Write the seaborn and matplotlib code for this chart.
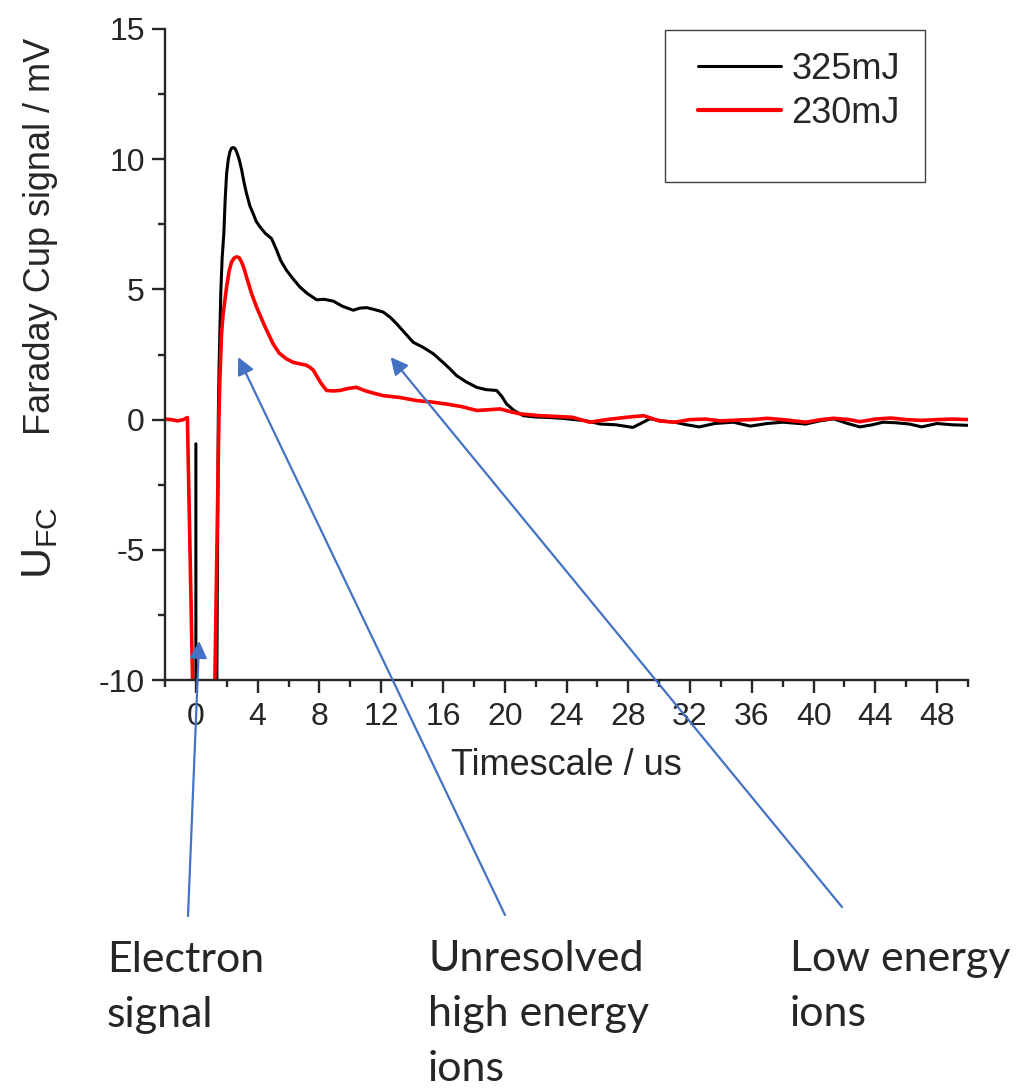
import numpy as np
import pandas as pd
import seaborn as sns
import matplotlib.pyplot as plt
from matplotlib.patches import Rectangle

# datos
t_325 = [0.0, 0.0, 1.31, 1.45, 1.5, 1.55, 1.62, 1.7, 1.81, 1.9, 1.99, 2.1, 2.2, 2.3, 2.42,
         2.52, 2.63, 2.8, 2.96, 3.12, 3.28, 3.5, 3.71, 3.9, 4.15, 4.5, 4.9, 5.2, 5.5, 5.87,
         6.3, 6.74, 7.2, 7.82, 8.3, 8.9, 9.5, 10.19, 10.6, 11.06, 11.6, 12.13, 12.6, 13.0,
         13.5, 14.07, 14.7, 15.37, 16.0, 16.45, 16.88, 17.5, 18.18, 18.8, 19.47, 19.8, 20.12,
         20.6, 21.2, 22.0, 22.9, 23.7, 24.5, 25.3, 26.2, 27.2, 28.3, 29.4, 30.2, 31.0, 31.8,
         32.6, 33.6, 34.8, 35.9, 37.0, 38.0, 39.5, 40.4, 41.3, 42.2, 43.0, 43.8, 44.5, 45.3,
         46.2, 47.0, 48.0, 49.0, 50.0]
u_325 = [-0.93, -15.0, -15.0, 0.0, 2.0, 3.3, 5.0, 6.2, 7.15, 8.5, 9.45, 10.0, 10.28, 10.42, 10.45,
         10.42, 10.3, 10.0, 9.6, 9.1, 8.68, 8.2, 7.91, 7.62, 7.4, 7.15, 6.95, 6.55, 6.1, 5.73,
         5.4, 5.09, 4.85, 4.6, 4.62, 4.55, 4.35, 4.2, 4.28, 4.3, 4.22, 4.13, 3.92, 3.68,
         3.35, 2.97, 2.78, 2.53, 2.2, 1.95, 1.69, 1.45, 1.24, 1.15, 1.12, 0.9, 0.6,
         0.35, 0.15, 0.1, 0.08, 0.05, 0.0, -0.05, -0.17, -0.2, -0.3, 0.03, -0.05, -0.1, -0.2,
         -0.28, -0.15, -0.1, -0.25, -0.15, -0.1, -0.17, -0.05, 0.03, -0.15, -0.28, -0.2, -0.1, -0.12,
         -0.17, -0.28, -0.15, -0.2, -0.22]

t_230 = [-2.0, -1.6, -1.2, -0.8, -0.55, -0.05, 1.1, 1.49, 1.55, 1.66, 1.77, 1.88, 1.99, 2.15,
         2.31, 2.47, 2.63, 2.8, 2.96, 3.12, 3.28, 3.6, 3.93, 4.45, 5.0, 5.4, 5.87, 6.3, 6.74,
         7.1, 7.38, 7.6, 7.82, 8.1, 8.46, 8.9, 9.33, 9.9, 10.4, 11.0, 11.6, 12.13, 13.2, 14.3,
         15.2, 16.2, 17.2, 18.2, 19.0, 19.7, 20.4, 21.0, 22.3, 23.4, 24.4, 25.5, 26.6, 27.9,
         29.0, 30.0, 31.0, 32.0, 33.0, 34.0, 35.0, 36.0, 37.0, 38.0, 39.5, 40.5, 41.3, 42.3,
         43.0, 44.0, 45.0, 46.0, 47.0, 48.0, 49.0, 50.0]
u_230 = [0.02, 0.0, -0.05, 0.0, 0.08, -15.0, -15.0, 0.0, 1.5, 3.3, 4.1, 4.58, 5.1, 5.7,
         6.05, 6.2, 6.25, 6.22, 6.05, 5.8, 5.47, 4.85, 4.32, 3.6, 2.91, 2.55, 2.33, 2.2, 2.14,
         2.1, 2.01, 1.9, 1.68, 1.4, 1.12, 1.1, 1.12, 1.2, 1.24, 1.1, 1.0, 0.92, 0.85, 0.73,
         0.68, 0.6, 0.5, 0.35, 0.38, 0.41, 0.3, 0.22, 0.15, 0.12, 0.09, -0.1, 0.0, 0.09,
         0.15, -0.05, -0.1, 0.0, 0.02, -0.05, -0.02, 0.0, 0.05, 0.0, -0.1, 0.0, 0.05, 0.0,
         -0.08, 0.02, 0.06, 0.0, -0.03, 0.0, 0.02, 0.0]

series = ["325mJ", "230mJ"]
colores = {"325mJ": "black", "230mJ": "#ff0000"}

x_ticks = list(range(0, 49, 4))
y_ticks = [-10, -5, 0, 5, 10, 15]

etiquetas = ["Electron\nsignal", "Unresolved\nhigh energy\nions", "Low energy\nions"]
# punta de cada flecha (datos)
punta_t = [0.21, 2.74, 12.61]
punta_u = [-8.5, 2.4, 2.4]

df = pd.concat([
    pd.DataFrame({"t": t_325, "u": u_325, "E": series[0]}),
    pd.DataFrame({"t": t_230, "u": u_230, "E": series[1]}),
], ignore_index=True)

sns.set_style("ticks")
plt.rcParams["font.family"] = ["Liberation Sans", "DejaVu Sans"]
plt.rcParams["axes.unicode_minus"] = False

W, H = 1018, 1089
fig = plt.figure(figsize=(W / 100, H / 100), dpi=100)
ax = fig.add_axes([165 / W, 1 - 680 / H, (968 - 165) / W, (680 - 29) / H])

sns.lineplot(data=df, x="t", y="u", hue="E", palette=colores, estimator=None,
             sort=False, ax=ax, linewidth=2.0)
for ln, lw in zip(ax.get_lines(), [2.2, 2.6]):
    ln.set_linewidth(lw)
    ln.set_solid_joinstyle("round")

ax.set_xlim(-2, 50)
ax.set_ylim(-10, 15)
ax.set_xticks(x_ticks)
ax.set_xticks(np.arange(-2, 51, 4), minor=True)
ax.set_yticks(y_ticks)
ax.set_yticks(np.arange(-7.5, 15, 5), minor=True)
ax.tick_params(which="major", direction="out", length=9.5, width=1.7, labelsize=23, pad=5)
ax.tick_params(which="minor", direction="out", length=5, width=1.7)
ax.tick_params(axis="x", which="major", pad=6)
sns.despine(ax=ax)
for s in ["left", "bottom"]:
    ax.spines[s].set_linewidth(1.7)

ax.set_xlabel("Timescale / us", fontsize=26, labelpad=12)
ax.set_ylabel("")
fig.text(41 / W, 1 - 236 / H, "Faraday Cup signal / mV", rotation=90,
         ha="center", va="center", fontsize=26)
fig.text(40 / W, 1 - 543 / H, r"U$_{\mathregular{FC}}$", rotation=90,
         ha="center", va="center", fontsize=31)

# leyenda
h, l = ax.get_legend_handles_labels()
for hh, lw in zip(h, [2.2, 3.0]):
    hh.set_linewidth(lw)
ax.legend(h, l, loc="upper left", bbox_to_anchor=(698 / W, 1 - 52 / H),
          bbox_transform=fig.transFigure, frameon=False, fontsize=26,
          handlelength=2.3, handletextpad=0.28, labelspacing=0.25,
          borderpad=0, borderaxespad=0)
fig.patches.append(Rectangle((665 / W, 1 - 182 / H), 260 / W, 152 / H,
                             transform=fig.transFigure, fill=False, lw=1.0, ec="#404040"))

# flechas y textos
colas = [(188, 916), (505, 915), (842, 907)]
textos = [(107, 941), (428, 940), (790, 940)]
for i, et in enumerate(etiquetas):
    ax.annotate("", xy=(punta_t[i], punta_u[i]), xycoords="data",
                xytext=(colas[i][0], H - colas[i][1]), textcoords="figure pixels",
                arrowprops=dict(arrowstyle="-|>", color="#4472C4", lw=1.6,
                                mutation_scale=26, shrinkA=0, shrinkB=0),
                annotation_clip=False)
    fig.text(textos[i][0] / W, 1 - textos[i][1] / H, et, ha="left", va="top",
             fontsize=31, family=["Lato", "DejaVu Sans"], linespacing=1.55)

fig.savefig("out.png", dpi=100)
